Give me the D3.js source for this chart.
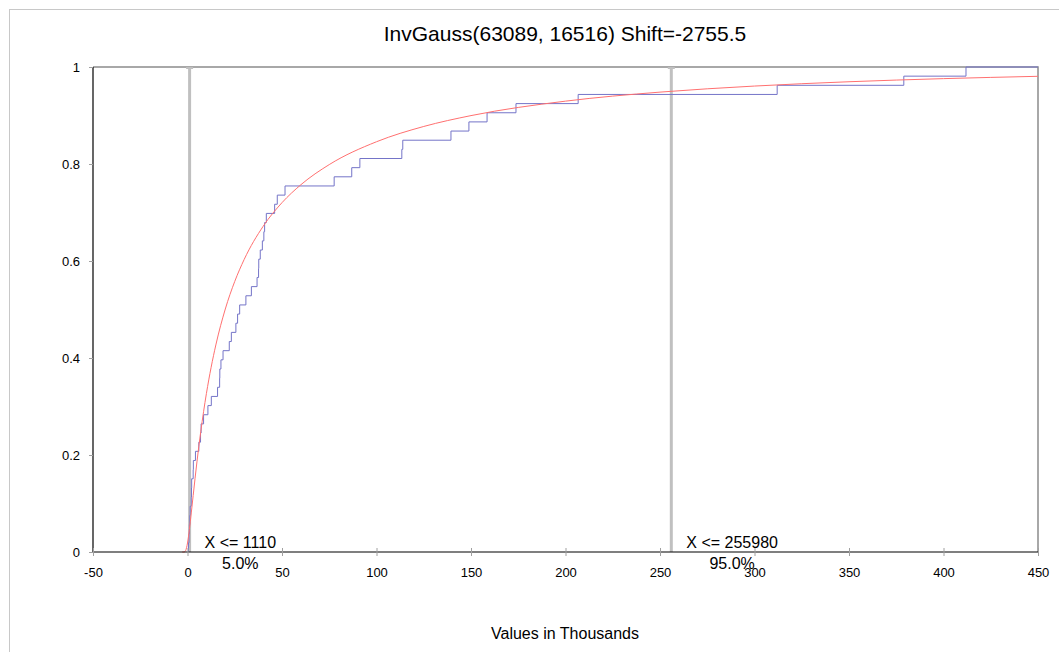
<!DOCTYPE html>
<html><head><meta charset="utf-8">
<script src="https://cdn.jsdelivr.net/npm/d3@7"></script>
<style>
body{margin:0;background:#fff}
svg{display:block}
text{font-family:"Liberation Sans",Arial,sans-serif;fill:#000}
</style>
</head><body>
<svg id="chart" width="1059" height="652"></svg>
<script>
// ---- data (values in thousands) ----
const titleText = "InvGauss(63089, 16516) Shift=-2755.5";
const axisTitle = "Values in Thousands";
const xTickValues = [-50, 0, 50, 100, 150, 200, 250, 300, 350, 400, 450];
const xTickLabels = ["-50", "0", "50", "100", "150", "200", "250", "300", "350", "400", "450"];
const yTickValues = [0, 0.2, 0.4, 0.6, 0.8, 1];
const yTickLabels = ["0", "0.2", "0.4", "0.6", "0.8", "1"];

// sorted sample values
const sampleValues = [0.5, 0.8, 1.0, 1.2, 1.4, 2.0, 2.1, 2.2, 3.0, 3.1,
  4.2, 6.0, 6.9, 7.2, 8.5, 10.8, 12.6, 15.9, 17.0, 17.1,
  17.7, 18.8, 22.1, 23.2, 25.6, 26.5, 27.6, 30.9, 33.8, 36.8,
  37.6, 37.7, 38.5, 39.6, 40.4, 40.8, 41.7, 46.1, 47.5, 51.6,
  77.6, 86.9, 91.2, 113.4, 113.9, 139.4, 148.9, 158.5, 173.8, 206.7,
  312.0, 379.0, 411.9];

// fitted curve
const fitX = [-2.75, -2, -1.5, -1, -0.5, 0, 0.5, 1, 1.5, 2, 3, 4, 5, 7, 10, 12.5, 15, 20, 25, 30, 40, 50, 60, 75, 100, 125, 150, 200, 250, 300, 350, 400, 450];
const fitP = [0, 0.00001, 0.0004, 0.0028, 0.0088, 0.0186, 0.0314, 0.0465, 0.0631, 0.0805, 0.1163, 0.1518, 0.1858, 0.2479, 0.3266, 0.3808, 0.4269, 0.5010, 0.5579, 0.6033, 0.6714, 0.7203, 0.7573, 0.7988, 0.8459, 0.8774, 0.8998, 0.9296, 0.9482, 0.9607, 0.9696, 0.9760, 0.9808];

const markerValues = [1.110, 255.980];
const markerLabels = ["X <= 1110", "X <= 255980"];
const markerPercents = ["5.0%", "95.0%"];

// ---- drawing ----
const svg = d3.select("#chart");
const x = d3.scaleLinear().domain([-50, 450]).range([93, 1038]);
const y = d3.scaleLinear().domain([0, 1]).range([552, 67]);

// outer frame
svg.append("rect").attr("x", 9.5).attr("y", 9.5).attr("width", 1070).attr("height", 660)
  .attr("fill", "none").attr("stroke", "#c8c8c8").attr("stroke-width", 1);

svg.append("text").attr("x", 565).attr("y", 41).attr("text-anchor", "middle")
  .style("font-size", "21px").text(titleText);

svg.append("defs").append("clipPath").attr("id", "plotclip")
  .append("rect").attr("x", 93).attr("y", 66).attr("width", 946).attr("height", 487);

// top & right frame of plot
svg.append("path")
  .attr("d", `M${x(-50)},${y(1)}H${x(450)}V${y(0)}`)
  .attr("fill", "none").attr("stroke", "#8c8c8c").attr("stroke-width", 1.5);

// percentile marker lines
markerValues.forEach(v => {
  svg.append("line").attr("x1", x(v)).attr("x2", x(v)).attr("y1", y(1)).attr("y2", y(0))
    .attr("stroke", "#c0c0c0").attr("stroke-width", 3);
  svg.append("line").attr("x1", x(v) - 3.5).attr("x2", x(v) + 3.5).attr("y1", y(1) + 1).attr("y2", y(1) + 1)
    .attr("stroke", "#c0c0c0").attr("stroke-width", 2);
});

const plot = svg.append("g").attr("clip-path", "url(#plotclip)");

// empirical step curve
const n = sampleValues.length;
const stepPts = [[sampleValues[0], 0]];
sampleValues.forEach((v, i) => stepPts.push([v, (i + 1) / n]));
stepPts.push([450, 1]);
plot.append("path")
  .datum(stepPts)
  .attr("d", d3.line().x(d => x(d[0])).y(d => y(d[1])).curve(d3.curveStepAfter))
  .attr("fill", "none").attr("stroke", "#7474c8").attr("stroke-width", 1);

// fitted curve
plot.append("path")
  .datum(fitX.map((v, i) => [v, fitP[i]]))
  .attr("d", d3.line().x(d => x(d[0])).y(d => y(d[1])).curve(d3.curveMonotoneX))
  .attr("fill", "none").attr("stroke", "#ff7070").attr("stroke-width", 1);

// axes
const yAxis = svg.append("g").attr("transform", `translate(${x(-50)},0)`)
  .call(d3.axisLeft(y).tickValues(yTickValues).tickFormat((d, i) => yTickLabels[i]).tickSize(4).tickPadding(9));
yAxis.select(".domain").attr("stroke", "#000").attr("stroke-width", 1.2).attr("d", `M0,${y(1)}V${y(0)}`);
yAxis.selectAll(".tick line").attr("stroke", "#a0a0a0");
yAxis.selectAll(".tick text").style("font-size", "13px").style("font-family", "Liberation Sans, Arial, sans-serif");

const xAxis = svg.append("g").attr("transform", `translate(0,${y(0)})`)
  .call(d3.axisBottom(x).tickValues(xTickValues).tickFormat((d, i) => xTickLabels[i]).tickSize(4).tickPadding(12));
xAxis.select(".domain").attr("stroke", "#000").attr("stroke-width", 1.2).attr("d", `M${x(-50)},0H${x(450)}`);
xAxis.selectAll(".tick line").attr("stroke", "#a0a0a0").attr("y1", -4);
xAxis.selectAll(".tick text").style("font-size", "13px").style("font-family", "Liberation Sans, Arial, sans-serif");

// marker annotations
markerValues.forEach((v, i) => {
  const t = svg.append("text").attr("x", x(v) + 15).attr("y", y(0) - 4)
    .style("font-size", "16px").text(markerLabels[i]);
  const w = t.node().getComputedTextLength();
  svg.append("text").attr("x", x(v) + 15 + w / 2).attr("y", y(0) + 17).attr("text-anchor", "middle")
    .style("font-size", "16px").text(markerPercents[i]);
});

svg.append("text").attr("x", 565).attr("y", 639).attr("text-anchor", "middle")
  .style("font-size", "16px").text(axisTitle);
</script>
</body></html>
